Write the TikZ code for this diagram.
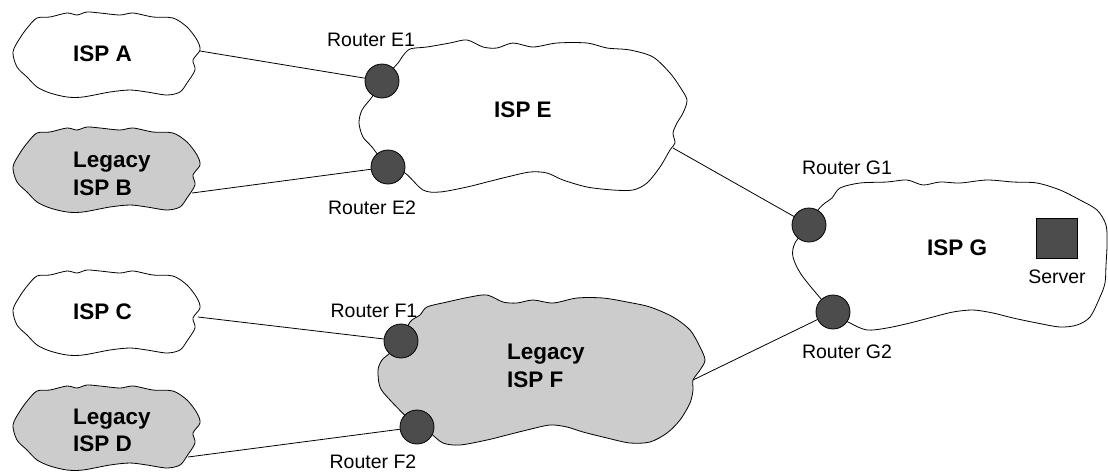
\documentclass[tikz,border=0pt]{standalone}
\usepackage{fontspec}
\setmainfont{Liberation Sans}
\definecolor{legacygray}{gray}{0.8}
\definecolor{routergray}{gray}{0.3}
\begin{document}
\begin{tikzpicture}[x=1pt,y=-1pt,
  cloudline/.style={draw=black, line width=0.8pt},
  router/.style={circle, draw=black, fill=routergray, minimum size=34pt,
    inner sep=0pt, line width=0.8pt},
  link/.style={draw=black, line width=0.8pt},
  rlabel/.style={font=\fontsize{19.5}{23}\selectfont, inner sep=0pt},
  isplabel/.style={font=\fontsize{22.5}{27.5}\selectfont\bfseries,
    align=left, inner sep=0pt},
  smallcloud/.pic={
    \path[pic actions] plot[smooth cycle] coordinates {
      (13,52) (20,38) (28,27) (37,18) (50,17) (67,13) (77,15) (87,12)
      (100,13) (120,15) (133,13) (153,17) (173,18) (187,27) (197,40)
      (200,50) (193,60) (195,70) (187,83) (180,92) (167,95) (147,92)
      (130,90) (110,92) (83,97) (67,97) (50,93) (37,87) (27,77) (17,67)};
  }]
\useasboundingbox (0,0) rectangle (1108,472);

% small access networks
\pic[cloudline, fill=white]      at (0,0)   {smallcloud};
\pic[cloudline, fill=legacygray] at (0,115) {smallcloud};
\pic[cloudline, fill=white]      at (0,258) {smallcloud};
\pic[cloudline, fill=legacygray] at (0,373) {smallcloud};

% ISP E
\path[cloudline, fill=white] plot[smooth cycle] coordinates {
  (382,81) (398,63) (402,57) (410,49) (427,47) (450,43) (467,40) (483,47)
  (497,48) (513,43) (533,47) (557,43) (587,43) (607,48) (630,50) (653,57)
  (670,73) (680,87) (687,100) (683,113) (677,123) (673,133) (675,143)
  (670,150) (660,167) (647,183) (633,190) (613,190) (587,187) (563,180)
  (547,173) (530,172) (507,177) (487,182) (467,187) (440,192) (423,190)
  (405,173) (388,167) (372,147) (363,137) (359,123) (362,110) (372,97)};

% ISP F (legacy)
\path[cloudline, fill=legacygray] plot[smooth cycle] coordinates {
  (401,341) (410,322) (420,315) (427,307) (447,302) (470,297) (487,295)
  (503,302) (517,303) (533,300) (553,303) (577,298) (603,298) (627,302)
  (650,307) (673,317) (690,330) (700,347) (705,360) (700,370) (693,380)
  (693,390) (690,403) (680,420) (667,433) (650,442) (630,443) (607,438)
  (583,432) (567,427) (550,425) (527,430) (507,435) (487,440) (460,445)
  (443,443) (430,433) (417,427) (390,400) (380,387) (378,370) (382,360)
  (390,353)};

% ISP G
\path[cloudline, fill=white] plot[smooth cycle] coordinates {
  (809,225) (818,210) (825,203) (832,198) (840,188) (860,183) (887,182)
  (907,180) (923,185) (940,182) (960,183) (987,180) (1013,182) (1037,183)
  (1060,190) (1080,200) (1097,210) (1106,225) (1107,245) (1106,265)
  (1105,283) (1100,297) (1090,317) (1077,325) (1060,327) (1037,323)
  (1013,318) (993,313) (973,310) (953,312) (933,317) (910,323) (887,328)
  (867,330) (850,323) (833,312) (803,277) (793,257) (795,243)};

% attachment points on the cloud borders
\coordinate (aA) at (200,51);
\coordinate (aB) at (192,193);
\coordinate (aC) at (198,317);
\coordinate (aD) at (188,457);
\coordinate (eR) at (673,148);
\coordinate (fR) at (693,380);

% routers
\node[router] (e1) at (382,81)  {};
\node[router] (e2) at (388,167) {};
\node[router] (f1) at (401,341) {};
\node[router] (f2) at (417,427) {};
\node[router] (g1) at (809,225) {};
\node[router] (g2) at (833,312) {};

% server
\node[draw=black, fill=routergray, minimum width=41pt, minimum height=40pt,
  inner sep=0pt, line width=0.8pt] (srv) at (1057,238) {};

% links
\draw[link] (aA) -- (e1);
\draw[link] (aB) -- (e2);
\draw[link] (aC) -- (f1);
\draw[link] (aD) -- (f2);
\draw[link] (eR) -- (g1);
\draw[link] (fR) -- (g2);

% network names
\node[isplabel, anchor=west] (ispA) at (73,54)    {ISP A};
\node[isplabel, anchor=west] (ispB) at (73,174)   {Legacy\\ISP B};
\node[isplabel, anchor=west] (ispC) at (73,311.5) {ISP C};
\node[isplabel, anchor=west] (ispD) at (73,430.5) {Legacy\\ISP D};
\node[isplabel] (ispE) at (523,110) {ISP E};
\node[isplabel, anchor=west] (ispF) at (507,366) {Legacy\\ISP F};
\node[isplabel] (ispG) at (957,248) {ISP G};

% router and server names
\node[rlabel] (le1) at (371,40)  {Router E1};
\node[rlabel] (le2) at (372,208) {Router E2};
\node[rlabel] (lf1) at (374,311) {Router F1};
\node[rlabel] (lf2) at (373,462) {Router F2};
\node[rlabel] (lg1) at (847,168) {Router G1};
\node[rlabel] (lg2) at (847,352) {Router G2};
\node[rlabel] (lsrv) at (1057,277) {Server};
\end{tikzpicture}
\end{document}
